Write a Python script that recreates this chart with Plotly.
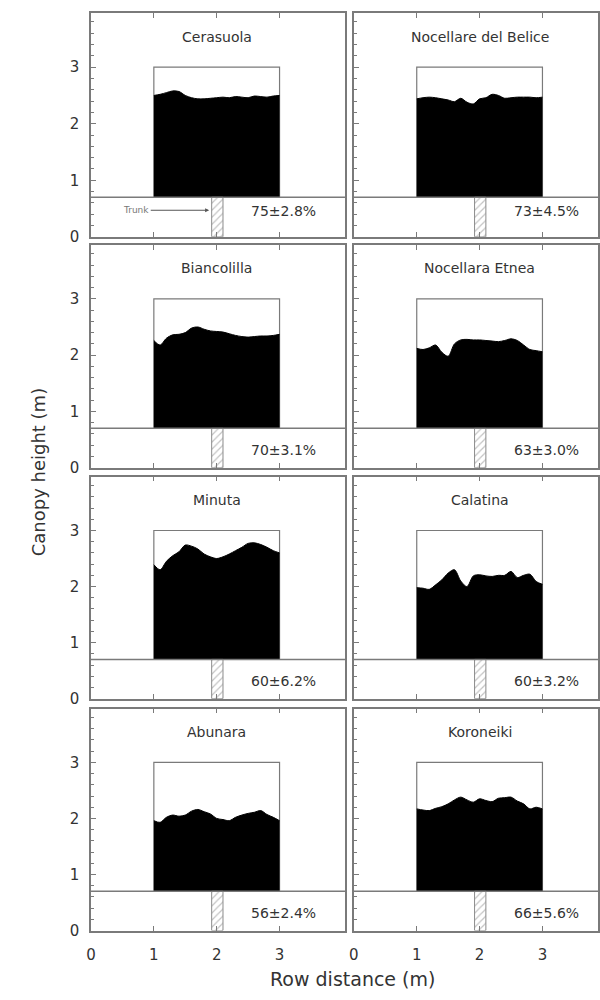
import plotly.graph_objects as go

# ---------------- data ----------------
varieties = ["Cerasuola", "Nocellare del Belice", "Biancolilla", "Nocellara Etnea",
             "Minuta", "Calatina", "Abunara", "Koroneiki"]
cover_labels = ["75±2.8%", "73±4.5%", "70±3.1%", "63±3.0%",
                "60±6.2%", "60±3.2%", "56±2.4%", "66±5.6%"]

row_distance = [1.0, 1.1, 1.2, 1.3, 1.4, 1.5, 1.6, 1.7, 1.8, 1.9, 2.0,
                2.1, 2.2, 2.3, 2.4, 2.5, 2.6, 2.7, 2.8, 2.9, 3.0]

h_cerasuola = [2.50, 2.52, 2.55, 2.58, 2.57, 2.50, 2.46, 2.44, 2.44, 2.45, 2.46,
               2.47, 2.46, 2.48, 2.47, 2.46, 2.49, 2.48, 2.47, 2.49, 2.50]
h_nocellare_belice = [2.44, 2.46, 2.47, 2.46, 2.44, 2.42, 2.39, 2.45, 2.38, 2.35, 2.44,
                      2.46, 2.52, 2.50, 2.45, 2.46, 2.47, 2.47, 2.47, 2.46, 2.47]
h_biancolilla = [2.26, 2.18, 2.30, 2.36, 2.37, 2.40, 2.48, 2.50, 2.46, 2.43, 2.42,
                 2.41, 2.38, 2.35, 2.33, 2.32, 2.33, 2.34, 2.34, 2.35, 2.37]
h_nocellara_etnea = [2.12, 2.10, 2.13, 2.18, 2.05, 1.98, 2.20, 2.27, 2.28, 2.27, 2.27,
                     2.26, 2.25, 2.24, 2.26, 2.29, 2.26, 2.18, 2.10, 2.08, 2.06]
h_minuta = [2.39, 2.30, 2.45, 2.55, 2.62, 2.74, 2.72, 2.67, 2.58, 2.53, 2.50,
            2.53, 2.58, 2.64, 2.70, 2.77, 2.78, 2.75, 2.70, 2.64, 2.60]
h_calatina = [1.98, 1.97, 1.95, 2.03, 2.12, 2.24, 2.30, 2.10, 2.00, 2.19, 2.21,
              2.19, 2.18, 2.20, 2.20, 2.27, 2.16, 2.20, 2.22, 2.09, 2.04]
h_abunara = [1.96, 1.93, 2.02, 2.06, 2.04, 2.06, 2.13, 2.16, 2.12, 2.08, 2.00,
             1.98, 1.96, 2.02, 2.06, 2.09, 2.11, 2.14, 2.07, 2.02, 1.96]
h_koroneiki = [2.17, 2.15, 2.14, 2.18, 2.21, 2.26, 2.33, 2.38, 2.33, 2.29, 2.35,
               2.32, 2.30, 2.36, 2.37, 2.38, 2.31, 2.26, 2.17, 2.20, 2.17]

heights = [h_cerasuola, h_nocellare_belice, h_biancolilla, h_nocellara_etnea,
           h_minuta, h_calatina, h_abunara, h_koroneiki]

trunk_height = 0.7
box_x = [1.0, 3.0]
box_top = 3.0
trunk_x = [1.92, 2.10]
x_ticks = [0, 1, 2, 3]
y_ticks = [0, 1, 2, 3]

# ---------------- layout geometry ----------------
W, H = 600, 1000
col_px = [(87, 344), (353, 600)]
row_px = [(13, 239), (247, 472), (481, 705), (715, 939)]
px_per_m = 63.6
y_max = 3.96

FONT = "DejaVu Sans"
GRAY = "#7a7a7a"
TXT = "#333333"

fig = go.Figure()
layout = dict(
    width=W, height=H,
    margin=dict(l=0, r=0, t=0, b=0),
    paper_bgcolor="white", plot_bgcolor="white",
    showlegend=False,
    font=dict(family=FONT, color=TXT),
)
annotations = []
shapes = []

for i, name in enumerate(varieties):
    r, c = divmod(i, 2)
    sfx = "" if i == 0 else str(i + 1)
    xa, ya = "x" + sfx, "y" + sfx
    x0p, x1p = col_px[c]
    y0p, y1p = row_px[r]
    x_max = (x1p - x0p) / px_per_m

    layout["xaxis" + sfx] = dict(
        domain=[x0p / W, x1p / W], range=[0, x_max], anchor=ya,
        tickvals=x_ticks, ticks="inside", ticklen=5, tickcolor=GRAY,
        showticklabels=(r == 3), tickfont=dict(size=15, color=TXT),
        ticklabelstandoff=10,
        showline=True, linecolor=GRAY, linewidth=1.5, mirror="ticks",
        showgrid=False, zeroline=False, fixedrange=True,
    )
    layout["yaxis" + sfx] = dict(
        domain=[1 - y1p / H, 1 - y0p / H], range=[0, y_max], anchor=xa,
        tickvals=y_ticks, ticks="inside", ticklen=5, tickcolor=GRAY,
        minor=dict(dtick=0.2, ticks="inside", ticklen=3, tickcolor=GRAY),
        showticklabels=(c == 0), tickfont=dict(size=15, color=TXT),
        ticklabelstandoff=7,
        showline=True, linecolor=GRAY, linewidth=1.5, mirror=True,
        showgrid=False, zeroline=False, fixedrange=True,
    )

    # canopy box outline
    shapes.append(dict(type="rect", xref=xa, yref=ya, x0=box_x[0], x1=box_x[1],
                       y0=trunk_height, y1=box_top, line=dict(color=GRAY, width=1.2),
                       layer="below"))
    # ground / trunk-height line across the panel
    shapes.append(dict(type="line", xref=xa + " domain", yref=ya, x0=0, x1=1,
                       y0=trunk_height, y1=trunk_height,
                       line=dict(color=GRAY, width=1.5), layer="above"))

    # canopy profile (baseline + filled profile)
    fig.add_trace(go.Scatter(x=[box_x[0], box_x[1]], y=[trunk_height, trunk_height],
                             mode="lines", line=dict(width=0, color="black"),
                             xaxis=xa, yaxis=ya, hoverinfo="skip"))
    fig.add_trace(go.Scatter(x=row_distance, y=heights[i], mode="lines",
                             line=dict(color="black", width=1, shape="spline", smoothing=0.9),
                             fill="tonexty", fillcolor="black",
                             xaxis=xa, yaxis=ya, hoverinfo="skip"))
    # trunk (hatched)
    fig.add_trace(go.Scatter(
        x=[trunk_x[0], trunk_x[1], trunk_x[1], trunk_x[0], trunk_x[0]],
        y=[0, 0, trunk_height, trunk_height, 0],
        mode="lines", fill="toself", fillcolor="white",
        fillpattern=dict(shape="/", fgcolor="#8a8a8a", bgcolor="white", size=5, solidity=0.25),
        line=dict(color="#8a8a8a", width=1), xaxis=xa, yaxis=ya, hoverinfo="skip"))

    # variety title
    annotations.append(dict(x=2.0, y=3.54, xref=xa, yref=ya, text=name, showarrow=False,
                            xanchor="center", yanchor="middle",
                            font=dict(size=14, color=TXT, family=FONT)))
    # cover percentage
    annotations.append(dict(x=3.07, y=0.45 if r == 0 else 0.32, xref=xa, yref=ya,
                            text=cover_labels[i], showarrow=False,
                            xanchor="center", yanchor="middle",
                            font=dict(size=14, color=TXT, family=FONT)))

# "Trunk" pointer in first panel
annotations.append(dict(x=1.88, y=0.47, xref="x", yref="y", ax=0.72, ay=0.47,
                        axref="x", ayref="y", text="Trunk", showarrow=True,
                        arrowhead=2, arrowsize=0.8, arrowwidth=1, arrowcolor="#555",
                        font=dict(size=9, color="#777", family=FONT)))

# axis titles
annotations.append(dict(x=34 / W, y=1 - 476 / H, xref="paper", yref="paper",
                        xanchor="center", yanchor="middle",
                        text="Canopy height (m)", textangle=-90, showarrow=False,
                        font=dict(size=18, color=TXT, family=FONT)))
annotations.append(dict(x=352 / W, y=1 - 988 / H, xref="paper", yref="paper",
                        xanchor="center", yanchor="middle",
                        text="Row distance (m)", showarrow=False,
                        font=dict(size=19, color=TXT, family=FONT)))

layout["annotations"] = annotations
layout["shapes"] = shapes
fig.update_layout(**layout)
fig.write_html("out.html")
